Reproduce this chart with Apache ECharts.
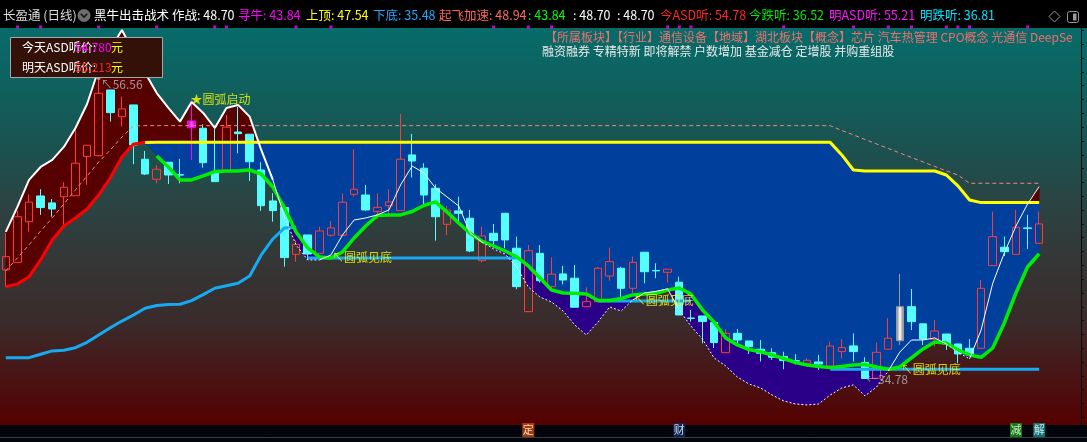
<!DOCTYPE html>
<html>
<head>
<meta charset="utf-8">
<title>长盈通 日线</title>
<script src="https://cdn.jsdelivr.net/npm/echarts@6.0.0/dist/echarts.min.js"></script>
<style>
html,body{margin:0;padding:0;background:#000;overflow:hidden;}
#chart{width:1087px;height:442px;}
</style>
</head>
<body>
<div id="chart"></div>
<script>
// ================= DATA =================
const categories = Array.from({length: 90}, (_, i) => 'K' + (i + 1));

const candleOpen = [
 42.67,43.22,46.16,48.02,47.52,47.97,48.04,50.87,50.94,55.69,
 53.76,54.61,50.68,49.23,50.46,49.56,52.96,52.92,49.78,49.78,
 52.65,52.49,49.90,47.66,47.18,43.80,45.20,43.87,45.18,45.18,
 48.14,48.09,46.89,47.32,46.96,50.99,50.03,48.58,45.97,46.94,
 46.41,43.34,45.32,46.77,44.24,39.65,43.87,41.46,42.38,42.07,
 40.01,40.37,42.23,42.79,41.34,43.95,42.63,42.50,41.78,39.19,
 39.34,38.87,36.68,38.08,37.53,36.93,36.68,36.40,36.10,35.91,
 36.01,35.72,36.76,37.17,35.97,34.83,36.93,37.55,40.01,38.77,
 37.65,38.03,37.31,37.00,37.00,42.98,44.31,43.80,45.71,44.60];
const candleClose = [
 43.63,46.52,47.57,47.18,47.08,48.65,50.39,51.69,55.45,54.05,
 54.32,51.71,49.61,49.95,49.54,49.53,53.45,50.43,49.06,53.00,
 52.53,50.50,47.32,46.96,43.56,44.52,43.82,45.49,45.71,47.57,
 48.51,47.01,47.20,47.59,50.68,50.55,48.09,46.52,47.01,46.77,
 44.04,45.13,44.79,44.84,41.46,44.06,41.89,42.36,41.94,39.97,
 40.37,42.79,43.27,41.34,43.22,42.54,42.60,42.72,39.41,39.16,
 38.93,37.41,38.08,37.60,37.12,36.64,36.35,36.11,36.07,36.13,
 35.86,37.17,37.05,36.76,34.81,36.71,37.73,40.01,38.93,37.68,
 38.25,37.31,36.59,36.52,41.34,45.08,43.99,45.76,45.67,46.00];
const candleLow = [
 41.44,43.20,45.44,46.65,46.52,45.92,48.04,48.82,50.87,53.40,
 53.04,50.32,49.54,48.94,48.89,48.94,50.63,50.07,49.06,49.78,
 51.11,49.11,46.94,46.16,42.91,43.27,43.39,43.87,45.08,45.18,
 47.97,46.94,46.36,46.65,46.96,49.35,47.42,44.79,45.20,46.16,
 43.95,43.22,44.24,44.24,41.27,39.65,41.75,41.22,41.63,39.97,
 40.01,40.37,41.89,40.73,40.98,41.70,42.07,41.75,39.41,38.93,
 37.36,37.02,36.68,37.24,36.59,36.04,36.16,35.48,35.83,35.91,
 35.43,35.72,36.26,36.04,34.78,34.83,36.93,37.24,38.32,37.24,
 37.12,36.88,35.92,36.52,37.00,42.98,43.68,43.80,44.19,44.60];
const candleHigh = [
 45.34,46.94,48.14,48.51,47.80,49.01,53.11,51.69,56.56,55.69,
 55.21,54.61,51.28,50.26,50.46,50.70,54.97,53.21,52.92,53.88,
 54.48,52.49,50.46,48.22,47.18,44.79,45.20,45.80,46.21,48.22,
 51.40,48.82,48.22,48.51,53.96,52.51,50.39,48.87,47.30,47.97,
 47.01,45.80,45.99,46.77,45.08,44.47,44.47,43.59,42.96,43.03,
 41.41,42.90,44.28,42.90,43.63,43.95,43.15,42.72,42.18,39.77,
 39.34,38.87,38.37,38.39,37.53,37.60,37.00,36.75,36.57,36.28,
 36.52,37.48,37.66,38.08,36.35,37.41,39.18,42.38,41.29,38.77,
 39.05,38.03,37.31,37.67,41.94,46.89,45.08,47.01,46.65,46.89];

// 作战 (white line)
const whiteLine = [
 45.42,47.23,49.18,50.12,50.63,51.57,52.94,54.68,57.21,58.66,
 60.03,58.44,56.92,55.47,54.39,53.40,54.82,54.03,52.94,54.39,
 54.61,53.76,51.35,49.18,46.50,44.48,43.39,43.39,43.75,45.20,
 46.28,46.43,46.65,47.01,48.82,50.19,49.69,48.60,47.95,47.30,
 45.34,44.69,44.19,43.82,42.88,41.44,40.71,40.35,39.70,38.69,
 37.96,38.90,39.99,39.70,40.50,41.00,41.12,41.30,39.77,38.61,
 37.67,36.30,35.72,34.92,34.42,34.13,33.62,33.19,32.97,32.90,
 32.97,33.62,34.13,34.35,33.55,34.20,35.36,36.73,37.60,37.60,
 37.75,37.31,36.73,36.23,38.33,41.71,43.90,45.85,47.44,48.70];
// 上顶 (red while rising, then yellow)
const upperLine = [
 41.44,41.66,42.16,43.39,44.84,45.85,46.43,47.08,48.09,49.32,
 50.84,51.78,51.89,51.90,51.90,51.90,51.90,51.90,51.90,51.90,
 51.90,51.90,51.90,51.90,51.90,51.90,51.90,51.90,51.90,51.90,
 51.90,51.90,51.90,51.90,51.90,51.90,51.90,51.90,51.90,51.90,
 51.90,51.90,51.90,51.90,51.90,51.90,51.90,51.90,51.90,51.90,
 51.90,51.90,51.90,51.90,51.90,51.90,51.90,51.90,51.90,51.90,
 51.90,51.90,51.90,51.90,51.90,51.90,51.90,51.90,51.90,51.90,
 51.90,51.90,50.99,49.90,49.83,49.83,49.83,49.83,49.83,49.83,
 49.83,49.54,48.75,47.73,47.54,47.54,47.54,47.54,47.54,47.54];
const upperRedEnd = 12;
// 起飞加速 (pink dashed)
const pinkLine = [
 42.60,43.54,44.48,45.49,46.43,47.44,48.46,49.47,50.48,51.35,
 52.29,53.09,53.11,53.11,53.11,53.11,53.11,53.11,53.11,53.11,
 53.11,53.11,53.11,53.11,53.11,53.11,53.11,53.11,53.11,53.11,
 53.11,53.11,53.11,53.11,53.11,53.11,53.11,53.11,53.11,53.11,
 53.11,53.11,53.11,53.11,53.11,53.11,53.11,53.11,53.11,53.11,
 53.11,53.11,53.11,53.11,53.11,53.11,53.11,53.11,53.11,53.11,
 53.11,53.11,53.11,53.11,53.11,53.11,53.11,53.11,53.11,53.11,
 53.11,53.11,52.76,52.44,52.11,51.78,51.46,51.13,50.81,50.48,
 50.16,49.83,49.54,48.94,48.94,48.94,48.94,48.94,48.94,48.94];
// 寻牛 (green)
const greenLine = [
 null,null,null,null,null,null,null,null,null,null,
 null,null,null,50.92,50.12,49.18,49.18,49.47,49.79,49.83,
 49.83,49.90,49.61,48.67,47.15,45.42,44.26,43.61,43.54,43.97,
 44.98,45.85,46.61,46.65,46.65,46.90,47.33,47.59,46.86,46.07,
 45.31,44.76,44.40,44.04,43.61,42.96,42.09,41.22,41.00,40.98,
 40.93,40.46,40.46,40.60,40.86,40.93,40.98,41.22,41.36,40.93,
 39.77,38.90,37.75,37.24,36.91,36.75,36.51,36.26,35.97,35.79,
 35.68,35.60,35.68,35.79,35.83,35.65,35.48,35.65,36.30,36.95,
 37.46,37.39,36.88,36.52,36.35,37.02,38.83,41.00,42.88,43.84];
// 下底 (blue): rising curve, then flat support steps
const supportRise = [
 36.32,36.32,36.32,36.57,36.81,36.86,37.04,37.43,37.96,38.49,
 38.97,39.41,39.90,40.09,40.17,40.19,40.45,40.88,41.34,41.53,
 41.70,42.23,43.75,44.91,45.71,45.75,null,null,null,null,
 null,null,null,null,null,null,null,null,null,null,
 null,null,null,null,null,null,null,null,null,null,
 null,null,null,null,null,null,null,null,null,null,
 null,null,null,null,null,null,null,null,null,null,
 null,null,null,null,null,null,null,null,null,null,
 null,null,null,null,null,null,null,null,null,null];
const supportFlat = [
 null,null,null,null,null,null,null,null,null,null,
 null,null,null,null,null,null,null,null,null,null,
 null,null,null,null,null,null,43.54,43.54,43.54,43.54,
 43.54,43.54,43.54,43.54,43.54,43.54,43.54,43.54,43.54,43.54,
 43.54,43.54,43.54,43.54,43.54,null,null,null,null,null,
 null,40.42,40.42,40.42,40.42,40.42,40.42,40.42,40.42,40.42,
 null,null,null,null,null,null,null,null,null,null,
 null,35.48,35.48,35.48,35.48,35.48,35.48,35.48,35.48,35.48,
 35.48,35.48,35.48,35.48,35.48,35.48,35.48,35.48,35.48,35.48];

const magentaCandle = 16;
const silverCandle = 77;

const annoIdx   = [8, 16, 28, 54, 74, 77];
const annoPrice = [56.56, 54.97, 43.54, 40.42, 34.78, 35.48];
const annoText  = ['↖56.56', '★圆弧启动', '↖圆弧见底', '↖圆弧见底', '←34.78', '↖圆弧见底'];

const infoMarkerIdx = [1,3,8,13,18,19,25,28,42,45,47,57,58,59,67,73,76,78,81,82,83,88];
const eventIdx  = [45, 58, 87, 89];
const eventText = ['定', '财', '减', '解'];

const titleTexts = ['长盈通 (日线)', '黑牛出击战术', '作战: 48.70', '寻牛: 43.84', '上顶: 47.54', '下底: 35.48',
  '起飞加速: 48.94', ': 43.84', ': 48.70', ': 48.70', '今ASD听: 54.78', '今跌听: 36.52', '明ASD听: 55.21', '明跌听: 36.81'];
const boxLabels = ['今天ASD听价:', '明天ASD听价:'];
const boxValues = ['54.780', '55.213'];
const tagLine1 = '【所属板块】【行业】通信设备【地域】湖北板块【概念】芯片 汽车热管理 CPO概念 光通信 DeepSeek';
const tagLine2 = '融资融券 专精特新 即将解禁 户数增加 基金减仓 定增股 并购重组股';

// ================= STYLE / LAYOUT =================
const FONT = '"Noto Sans CJK SC","Noto Sans",sans-serif';
const titleX = [3, 94, 172, 238, 306, 373, 439, 528, 573, 617, 660, 749, 829, 920];
const titleColor = ['#dcdcdc', '#ffffff', '#ffffff', '#ff00ff', '#ffff00', '#1ea8ff', '#ff6a5c', '#00ff00', '#ffffff', '#ffffff',
  '#ff2424', '#00e800', '#ff10ff', '#00e4ff'];
const annoStyle = [
  {color: '#b8b8b8', offset: [0, 6], size: 4},
  {color: '#ffff00', offset: [-1, 0], size: 0},
  {color: '#ffff00', offset: [1, 0], size: 0},
  {color: '#ffff00', offset: [1, -1], size: 0},
  {color: '#b8b8b8', offset: [1, 0], size: 0},
  {color: '#ffff00', offset: [1, 0], size: 0}
];
const eventColor = ['#c44a08', '#0b2a66', '#119a11', '#0c8c8c'];

const N = categories.length;
const chart = echarts.init(document.getElementById('chart'));

const candleData = candleOpen.map((o, i) => {
  const item = {value: [o, candleClose[i], candleLow[i], candleHigh[i]]};
  if (i === magentaCandle) {
    item.itemStyle = {
      color: new echarts.graphic.LinearGradient(0, 0, 1, 0, [
        {offset: 0, color: '#9a009a'}, {offset: 0.5, color: '#ff50ff'}, {offset: 1, color: '#9a009a'}]),
      borderColor: '#ff00ff'
    };
  }
  if (i === silverCandle) {
    item.itemStyle = {
      color: new echarts.graphic.LinearGradient(0, 0, 1, 0, [
        {offset: 0, color: '#6a6a6a'}, {offset: 0.5, color: '#ffffff'}, {offset: 1, color: '#6a6a6a'}]),
      borderColor: '#9a9a9a'
    };
  }
  return item;
});

const redPart = upperLine.map((v, i) => i <= upperRedEnd ? v : null);
const yellowPart = upperLine.map((v, i) => i >= upperRedEnd ? v : null);

// white line styling: thick envelope on the left, dashed where under the green line
const whiteThickEnd = 23;
const below = whiteLine.map((w, i) => greenLine[i] != null && w < greenLine[i]);
const whiteThick = whiteLine.map((w, i) => i <= whiteThickEnd ? w : null);
const whiteSolid = whiteLine.map(() => null);
const whiteDash = whiteLine.map(() => null);
for (let i = whiteThickEnd; i < N - 1; i++) {
  const arr = (below[i] && below[i + 1]) ? whiteDash : whiteSolid;
  arr[i] = whiteLine[i]; arr[i + 1] = whiteLine[i + 1];
}
// green line used as lower edge of blue fill starts where the yellow begins
const greenForFill = greenLine.map((v, i) => (v == null && i + 1 < N && greenLine[i + 1] != null) ? upperLine[i] : v);

function bandSeries(topArr, botArr, color, z) {
  return {
    type: 'custom', z: z, silent: true, clip: false,
    xAxisIndex: 0, yAxisIndex: 0,
    data: [[0, 40]],
    encode: {x: 0, y: 1},
    renderItem: function (params, api) {
      const p0 = api.coord([0, 40]);
      const p1 = api.coord([1, 40]);
      const band = p1[0] - p0[0];
      const X = x => p0[0] + x * band;
      const Y = v => api.coord([0, v])[1];
      const runs = [];
      let cur = null;
      for (let i = 0; i < topArr.length; i++) {
        const t = topArr[i], b = botArr[i];
        if (t == null || b == null) { if (cur) { runs.push(cur); cur = null; } continue; }
        const d = t - b;
        if (i > 0 && topArr[i - 1] != null && botArr[i - 1] != null) {
          const tp = topArr[i - 1], bp = botArr[i - 1], dp = tp - bp;
          if ((dp > 0) !== (d > 0)) {
            const f = dp / (dp - d);
            const v = tp + (t - tp) * f;
            const pt = [i - 1 + f, v, v];
            if (cur) { cur.push(pt); runs.push(cur); cur = null; }
            else cur = [pt];
          }
        }
        if (d > 0) { if (!cur) cur = []; cur.push([i, t, b]); }
      }
      if (cur) runs.push(cur);
      const children = runs.filter(r => r.length > 1).map(r => {
        const pts = r.map(p => [X(p[0]), Y(p[1])])
          .concat(r.slice().reverse().map(p => [X(p[0]), Y(p[2])]));
        return {type: 'polygon', shape: {points: pts}, style: {fill: color, stroke: color, lineWidth: 0.5}};
      });
      return {type: 'group', children: children};
    }
  };
}

function lineSeries(data, color, width, z, dash) {
  return {
    type: 'line', data: data, z: z, xAxisIndex: 0, yAxisIndex: 0,
    showSymbol: false, symbol: 'none', silent: true, connectNulls: false,
    lineStyle: {color: color, width: width, type: dash || 'solid'}
  };
}

function text(x, y, s, fill, size, z, maxW) {
  const st = {text: s, fill: fill, font: size + 'px ' + FONT,
    align: 'left', verticalAlign: 'middle', textAlign: 'left', textVerticalAlign: 'middle'};
  if (maxW) { st.width = maxW; st.overflow = 'truncate'; st.ellipsis = ''; }
  return {type: 'text', x: x, y: y, z: z || 100, silent: true, style: st};
}

const graphics = [];
// background gradient of the price pane
graphics.push({
  type: 'rect', x: 0, y: 28, z: -10, silent: true,
  shape: {width: 1087, height: 397},
  style: {fill: new echarts.graphic.LinearGradient(0, 0, 0, 1, [
    {offset: 0, color: '#076c6a'}, {offset: 0.15, color: '#0f605e'}, {offset: 0.3, color: '#1b5250'},
    {offset: 0.45, color: '#2b4342'}, {offset: 0.6, color: '#353535'}, {offset: 0.74, color: '#3b2b2b'},
    {offset: 0.87, color: '#481515'}, {offset: 1, color: '#560000'}])}
});
// title bar / bottom bar masks
graphics.push({type: 'rect', x: 0, y: 0, z: 50, silent: true, shape: {width: 1087, height: 28}, style: {fill: '#000'}});
graphics.push({type: 'rect', x: 0, y: 425, z: 50, silent: true, shape: {width: 1087, height: 17}, style: {fill: '#02050c'}});
graphics.push({type: 'line', z: 51, silent: true, shape: {x1: 0, y1: 437.5, x2: 1087, y2: 437.5}, style: {stroke: '#3c3c3c', lineWidth: 1}});
// title texts
titleTexts.forEach((s, i) => graphics.push(text(titleX[i], 15.5, s, titleColor[i], 12.5)));
graphics.push({type: 'circle', z: 100, silent: true, shape: {cx: 84, cy: 15.5, r: 6.5}, style: {fill: '#6e6e6e'}});
graphics.push({type: 'polyline', z: 101, silent: true, shape: {points: [[80.8, 13.8], [84, 17], [87.2, 13.8]]}, style: {stroke: '#151515', lineWidth: 1.6, fill: null}});
graphics.push({type: 'polygon', z: 100, silent: true, shape: {points: [[1054.5, 11], [1060, 16.5], [1054.5, 22], [1049, 16.5]]}, style: {fill: null, stroke: '#9a9a9a', lineWidth: 1}});
graphics.push({type: 'rect', z: 100, silent: true, shape: {x: 1067.5, y: 11.5, width: 11, height: 11, r: 2}, style: {fill: null, stroke: '#9a9a9a', lineWidth: 1}});
graphics.push({type: 'rect', z: 100, silent: true, shape: {x: 1073, y: 13.5, width: 3.5, height: 7}, style: {fill: '#9a9a9a'}});
// tag lines
graphics.push(text(545, 37.5, tagLine1, '#ee6f6f', 12, 40, 534));
graphics.push(text(542, 51.7, tagLine2, '#e8e8e8', 12, 40));
// ASD box
graphics.push({type: 'rect', z: 90, silent: true, shape: {x: 10.5, y: 37.5, width: 152, height: 40}, style: {fill: '#331109', stroke: '#a8a8a8', lineWidth: 1}});
graphics.push(text(22, 47.5, boxLabels[0], '#ffffff', 12));
graphics.push(text(75, 47.5, boxValues[0], '#ff00ff', 12));
graphics.push(text(111, 47.5, '元', '#ffff00', 12));
graphics.push(text(22, 67, boxLabels[1], '#ffffff', 12));
graphics.push(text(75, 67, boxValues[1], '#ff2020', 12));
graphics.push(text(111, 67, '元', '#ffff00', 12));

const option = {
  animation: false,
  backgroundColor: '#000',
  grid: [
    {left: -1, top: 16.6, width: 1046, height: 414.6},
    {left: -1, top: 423, width: 1046, height: 14}
  ],
  xAxis: [
    {type: 'category', data: categories, boundaryGap: true, show: false, gridIndex: 0},
    {type: 'category', data: categories, boundaryGap: true, show: false, gridIndex: 1}
  ],
  yAxis: [
    {type: 'value', min: 31, max: 61, show: false, gridIndex: 0},
    {type: 'value', min: 31, max: 61, interval: 1, gridIndex: 0, position: 'right', offset: 36,
      axisLine: {show: true, lineStyle: {color: '#0c0c0c', width: 1}},
      axisTick: {show: true, length: 3, lineStyle: {color: '#0c0c0c'}},
      axisLabel: {show: false}, splitLine: {show: false}},
    {type: 'value', min: 0, max: 1, show: false, gridIndex: 1}
  ],
  graphic: {elements: graphics},
  series: [
    bandSeries(whiteLine, upperLine, '#560000', 1),
    bandSeries(upperLine, greenForFill, '#00409c', 1),
    bandSeries(greenLine, whiteLine, '#2a0089', 1),
    {
      type: 'candlestick', data: candleData, z: 3, xAxisIndex: 0, yAxisIndex: 0, barWidth: 8,
      silent: true,
      itemStyle: {color: 'rgba(0,0,0,0)', color0: '#55ffff', borderColor: '#ff3a3a', borderColor0: '#55ffff', borderWidth: 1}
    },
    lineSeries(pinkLine, '#f08585', 1, 4, [4, 3]),
    lineSeries(supportRise, '#16aaf2', 3, 4),
    lineSeries(supportFlat, '#16aaf2', 3, 4),
    lineSeries(greenLine, '#00ee00', 3.5, 5),
    lineSeries(redPart, '#ff0000', 3, 5),
    lineSeries(yellowPart, '#ffff00', 3, 5),
    lineSeries(whiteThick, '#ffffff', 2, 6),
    lineSeries(whiteSolid, '#ffffff', 1, 6),
    lineSeries(whiteDash, '#ffffff', 1, 6, [2, 2]),
    {
      type: 'scatter', z: 20, xAxisIndex: 0, yAxisIndex: 0, silent: true,
      data: annoIdx.map((idx, k) => ({
        value: [idx, annoPrice[k]],
        symbolSize: annoStyle[k].size,
        itemStyle: {color: annoStyle[k].color},
        label: {show: true, formatter: annoText[k], position: 'right', distance: 0,
          offset: annoStyle[k].offset, color: annoStyle[k].color,
          fontSize: 12, fontFamily: FONT}
      }))
    },
    {
      type: 'scatter', z: 60, zlevel: 0, xAxisIndex: 0, yAxisIndex: 0, silent: true, clip: false,
      symbol: 'rect', symbolSize: [3, 3], itemStyle: {color: '#ff00ff'},
      data: infoMarkerIdx.map(i => [i, 60.25])
    },
    {
      type: 'scatter', z: 60, xAxisIndex: 1, yAxisIndex: 2, silent: true, clip: false,
      symbol: 'rect', symbolSize: [12, 14],
      data: eventIdx.map((i, k) => ({
        value: [i, 0.5], itemStyle: {color: eventColor[k]},
        label: {show: true, position: 'inside', formatter: eventText[k], color: '#ffffff', fontSize: 11, fontFamily: FONT}
      }))
    }
  ]
};
chart.setOption(option);
</script>
</body>
</html>
